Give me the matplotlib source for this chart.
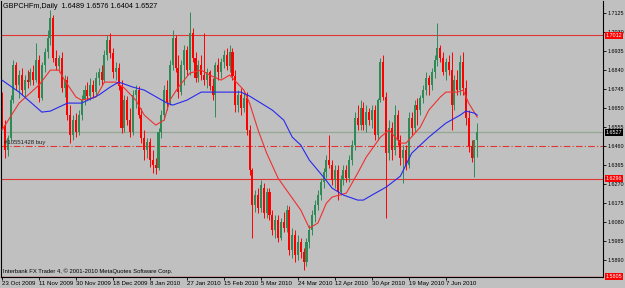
import matplotlib.pyplot as plt
import numpy as np
from matplotlib import transforms

plt.rcParams['font.family'] = ['Liberation Sans Narrow', 'Liberation Sans', 'DejaVu Sans']

# daily OHLC, GBPCHFm, 23 Oct 2009 ->
opens = [
    1.6703, 1.6563, 1.6438, 1.6498, 1.6688, 1.6863, 1.6763, 1.6813, 1.6738, 1.6788,
    1.6778, 1.6828, 1.6788, 1.6888, 1.6698, 1.6863, 1.6928, 1.6998, 1.7098, 1.6898,
    1.6858, 1.6898, 1.6748, 1.6788, 1.6613, 1.6513, 1.6588, 1.6528, 1.6613, 1.6688,
    1.6738, 1.6708, 1.6763, 1.6728, 1.6798, 1.6828, 1.6788, 1.6913, 1.6988, 1.6923,
    1.6828, 1.6848, 1.6758, 1.6548, 1.6688, 1.6588, 1.6528, 1.6713, 1.6738, 1.6613,
    1.6498, 1.6438, 1.6478, 1.6388, 1.6363, 1.6348, 1.6528, 1.6613, 1.6738, 1.6678,
    1.6863, 1.6998, 1.6848, 1.6728, 1.6863, 1.6938, 1.6838, 1.7023, 1.6898, 1.6798,
    1.6863, 1.6813, 1.6788, 1.6828, 1.6758, 1.6713, 1.6863, 1.6828, 1.6878, 1.6913,
    1.6858, 1.6928, 1.6808, 1.6663, 1.6713, 1.6648, 1.6698, 1.6538, 1.6338, 1.6163,
    1.6213, 1.6148, 1.6248, 1.6123, 1.6228, 1.6113, 1.6038, 1.6088, 1.5998, 1.6078,
    1.6048, 1.6138, 1.5938, 1.6013, 1.5913, 1.5978, 1.5928, 1.5878, 1.5978, 1.6038,
    1.6113, 1.6163, 1.6213, 1.6278, 1.6328, 1.6388, 1.6363, 1.6288, 1.6338, 1.6228,
    1.6288, 1.6338, 1.6298, 1.6388, 1.6463, 1.6598, 1.6563, 1.6648, 1.6563, 1.6628,
    1.6588, 1.6638, 1.6513, 1.6688, 1.6878, 1.6703, 1.6423, 1.6548, 1.6438, 1.6613,
    1.6488, 1.6398, 1.6438, 1.6363, 1.6598, 1.6548, 1.6663, 1.6638, 1.6698, 1.6738,
    1.6798, 1.6763, 1.6828, 1.6888, 1.6948, 1.6898, 1.6828, 1.6878, 1.6838, 1.6663,
    1.6788, 1.6738, 1.6878, 1.6748, 1.6598, 1.6458, 1.6398, 1.6489]
highs = [
    1.6728, 1.6588, 1.6513, 1.6713, 1.6888, 1.6878, 1.6838, 1.6848, 1.6813, 1.6838,
    1.6848, 1.6863, 1.6973, 1.6913, 1.6878, 1.6948, 1.7038, 1.7138, 1.7113, 1.6938,
    1.6913, 1.6928, 1.6813, 1.6808, 1.6663, 1.6613, 1.6623, 1.6638, 1.6713, 1.6763,
    1.6778, 1.6798, 1.6788, 1.6828, 1.6848, 1.6863, 1.6938, 1.7013, 1.7023, 1.6948,
    1.6878, 1.6873, 1.6788, 1.6713, 1.6708, 1.6648, 1.6738, 1.6763, 1.6758, 1.6648,
    1.6538, 1.6498, 1.6498, 1.6438, 1.6398, 1.6548, 1.6638, 1.6763, 1.6788, 1.6888,
    1.7038, 1.7013, 1.6913, 1.6888, 1.6963, 1.6958, 1.7128, 1.7048, 1.6928, 1.6888,
    1.6913, 1.7023, 1.6848, 1.6838, 1.6798, 1.6878, 1.6898, 1.6898, 1.6938, 1.6948,
    1.6963, 1.6948, 1.6838, 1.6738, 1.6748, 1.6728, 1.6728, 1.6563, 1.6348, 1.6238,
    1.6248, 1.6288, 1.6273, 1.6248, 1.6248, 1.6138, 1.6113, 1.6113, 1.6098, 1.6128,
    1.6163, 1.6158, 1.6048, 1.6038, 1.6013, 1.5998, 1.5948, 1.5998, 1.6063, 1.6138,
    1.6188, 1.6238, 1.6298, 1.6348, 1.6413, 1.6513, 1.6388, 1.6363, 1.6363, 1.6313,
    1.6363, 1.6363, 1.6413, 1.6488, 1.6628, 1.6663, 1.6688, 1.6678, 1.6663, 1.6648,
    1.6663, 1.6663, 1.6698, 1.6898, 1.6913, 1.6728, 1.6588, 1.6578, 1.6663, 1.6638,
    1.6513, 1.6463, 1.6463, 1.6628, 1.6628, 1.6688, 1.6698, 1.6713, 1.6763, 1.6828,
    1.6813, 1.6848, 1.6913, 1.7073, 1.6963, 1.6928, 1.6898, 1.6913, 1.6928, 1.6813,
    1.6838, 1.6913, 1.6928, 1.6788, 1.6638, 1.6488, 1.6428, 1.6576]
lows = [
    1.6548, 1.6398, 1.6408, 1.6488, 1.6673, 1.6738, 1.6698, 1.6713, 1.6703, 1.6748,
    1.6763, 1.6763, 1.6778, 1.6678, 1.6688, 1.6828, 1.6898, 1.6963, 1.6878, 1.6838,
    1.6828, 1.6728, 1.6703, 1.6588, 1.6473, 1.6488, 1.6503, 1.6513, 1.6588, 1.6663,
    1.6688, 1.6688, 1.6698, 1.6713, 1.6763, 1.6763, 1.6778, 1.6888, 1.6898, 1.6798,
    1.6788, 1.6738, 1.6523, 1.6528, 1.6563, 1.6503, 1.6513, 1.6648, 1.6598, 1.6473,
    1.6388, 1.6398, 1.6353, 1.6323, 1.6318, 1.6338, 1.6498, 1.6588, 1.6638, 1.6663,
    1.6838, 1.6828, 1.6698, 1.6713, 1.6763, 1.6813, 1.6813, 1.6878, 1.6778, 1.6778,
    1.6788, 1.6763, 1.6748, 1.6738, 1.6688, 1.6603, 1.6788, 1.6798, 1.6848, 1.6838,
    1.6828, 1.6788, 1.6628, 1.6628, 1.6613, 1.6628, 1.6513, 1.6313, 1.5998, 1.6128,
    1.6123, 1.6128, 1.6098, 1.6098, 1.6088, 1.6013, 1.5998, 1.5978, 1.5988, 1.6028,
    1.6028, 1.5913, 1.5898, 1.5878, 1.5888, 1.5898, 1.5838, 1.5858, 1.5948, 1.6013,
    1.6078, 1.6138, 1.6188, 1.6248, 1.6298, 1.6348, 1.6263, 1.6248, 1.6188, 1.6213,
    1.6263, 1.6278, 1.6278, 1.6363, 1.6438, 1.6538, 1.6538, 1.6538, 1.6528, 1.6563,
    1.6548, 1.6488, 1.6488, 1.6678, 1.6688, 1.6098, 1.6388, 1.6388, 1.6413, 1.6463,
    1.6363, 1.6273, 1.6338, 1.6348, 1.6513, 1.6528, 1.6563, 1.6613, 1.6673, 1.6713,
    1.6713, 1.6738, 1.6798, 1.6858, 1.6878, 1.6813, 1.6788, 1.6813, 1.6538, 1.6638,
    1.6713, 1.6713, 1.6713, 1.6563, 1.6428, 1.6378, 1.6303, 1.6404]
closes = [
    1.6563, 1.6438, 1.6498, 1.6688, 1.6863, 1.6763, 1.6813, 1.6738, 1.6788, 1.6778,
    1.6828, 1.6788, 1.6888, 1.6698, 1.6863, 1.6928, 1.6998, 1.7098, 1.6898, 1.6858,
    1.6898, 1.6748, 1.6788, 1.6613, 1.6513, 1.6588, 1.6528, 1.6613, 1.6688, 1.6738,
    1.6708, 1.6763, 1.6728, 1.6798, 1.6828, 1.6788, 1.6913, 1.6988, 1.6923, 1.6828,
    1.6848, 1.6758, 1.6548, 1.6688, 1.6588, 1.6528, 1.6713, 1.6738, 1.6613, 1.6498,
    1.6438, 1.6478, 1.6388, 1.6363, 1.6348, 1.6528, 1.6613, 1.6738, 1.6678, 1.6863,
    1.6998, 1.6848, 1.6728, 1.6863, 1.6938, 1.6838, 1.7023, 1.6898, 1.6798, 1.6863,
    1.6813, 1.6788, 1.6828, 1.6758, 1.6713, 1.6863, 1.6828, 1.6878, 1.6913, 1.6858,
    1.6928, 1.6808, 1.6663, 1.6713, 1.6648, 1.6698, 1.6538, 1.6338, 1.6163, 1.6213,
    1.6148, 1.6263, 1.6123, 1.6228, 1.6113, 1.6038, 1.6088, 1.5998, 1.6078, 1.6048,
    1.6138, 1.5938, 1.6013, 1.5913, 1.5978, 1.5928, 1.5878, 1.5978, 1.6038, 1.6113,
    1.6163, 1.6213, 1.6278, 1.6328, 1.6388, 1.6363, 1.6288, 1.6338, 1.6228, 1.6288,
    1.6338, 1.6298, 1.6388, 1.6463, 1.6598, 1.6563, 1.6648, 1.6563, 1.6628, 1.6588,
    1.6638, 1.6513, 1.6688, 1.6878, 1.6703, 1.6423, 1.6548, 1.6438, 1.6613, 1.6488,
    1.6398, 1.6438, 1.6363, 1.6598, 1.6548, 1.6663, 1.6638, 1.6698, 1.6738, 1.6798,
    1.6763, 1.6828, 1.6888, 1.6948, 1.6898, 1.6828, 1.6878, 1.6838, 1.6663, 1.6788,
    1.6738, 1.6878, 1.6748, 1.6598, 1.6458, 1.6398, 1.6488, 1.6527]

# moving averages at these bars
red_ma_bar = [0, 6, 13, 17, 20, 22, 26, 28, 33, 36, 40, 43, 47, 50, 54, 57, 59, 62, 66, 70,
              73, 77, 80, 85, 87, 90, 93, 97, 100, 105, 108, 111, 114, 116, 121, 125, 128, 133,
              136, 140, 142, 147, 150, 154, 156, 160, 162, 164, 167]
red_ma_val = [1.6538, 1.6673, 1.6763, 1.6838, 1.6838, 1.6788, 1.6703, 1.6688, 1.6703, 1.6778,
              1.6778, 1.6748, 1.6688, 1.6613, 1.6563, 1.6588, 1.6688, 1.6753, 1.6823, 1.6838,
              1.6813, 1.6788, 1.6813, 1.6738, 1.6673, 1.6538, 1.6423, 1.6298, 1.6238, 1.6138,
              1.6048, 1.6073, 1.6173, 1.6203, 1.6223, 1.6323, 1.6403, 1.6503, 1.6538, 1.6473,
              1.6473, 1.6553, 1.6638, 1.6703, 1.6728, 1.6728, 1.6738, 1.6673, 1.6603]
blue_ma_bar = [0, 6, 14, 17, 23, 28, 34, 38, 41, 46, 50, 58, 60, 65, 70, 75, 84, 87, 91, 95,
               99, 102, 105, 108, 113, 116, 120, 125, 127, 130, 135, 140, 144, 150, 156, 161,
               163, 166, 167]
blue_ma_val = [1.6788, 1.6728, 1.6628, 1.6633, 1.6673, 1.6673, 1.6713, 1.6753, 1.6778, 1.6753,
               1.6738, 1.6673, 1.6663, 1.6688, 1.6728, 1.6728, 1.6728, 1.6708, 1.6673, 1.6638,
               1.6588, 1.6503, 1.6463, 1.6388, 1.6303, 1.6248, 1.6213, 1.6188, 1.6188, 1.6213,
               1.6253, 1.6308, 1.6423, 1.6503, 1.6573, 1.6613, 1.6633, 1.6623, 1.6613]

date_bars = [0, 13, 26, 39, 52, 65, 78, 91, 104, 117, 130, 143, 156]
date_labels = ['23 Oct 2009', '11 Nov 2009', '30 Nov 2009', '18 Dec 2009', '8 Jan 2010',
               '27 Jan 2010', '15 Feb 2010', '5 Mar 2010', '24 Mar 2010', '12 Apr 2010',
               '30 Apr 2010', '19 May 2010', '7 Jun 2010']
price_ticks = [1.7125, 1.7030, 1.6935, 1.6840, 1.6745, 1.6650, 1.6555, 1.6460,
               1.6365, 1.6270, 1.6175, 1.6080, 1.5985, 1.5890]

resist_level = 1.7012
support_level = 1.6296
bottom_level = 1.5805
order_price = 1.6459
order_text = '#10551428 buy'

bg = '#C0C0C0'
bull = '#2E8B57'
bear = '#FF0000'

fig = plt.figure(figsize=(6.25, 2.88), dpi=100, facecolor=bg)
ax = fig.add_axes([1 / 625, 11 / 288, 602 / 625, 276 / 288])
ax.set_facecolor(bg)
ax.set_xlim(-0.35, 211.2)
ax.set_ylim(1.58035, 1.71835)

o = np.array(opens)
c = np.array(closes)
x = np.arange(len(o))
up = c >= o
cols = np.where(up, bull, bear)

# levels
ax.axhline(resist_level, color='#E03535', lw=0.8, zorder=1)
ax.axhline(support_level, color='#E03535', lw=0.8, zorder=1)
ax.axhline(bottom_level, color='#E03535', lw=1.0, zorder=1)
ax.axhline(closes[-1], color='#94A894', lw=0.9, zorder=1)
ax.axhline(order_price, color='#E03535', lw=0.8, ls=(0, (6, 2, 1, 2)), zorder=1)
ax.text(0.8, order_price + 0.0004, order_text, fontsize=4.3, va='bottom', ha='left',
        color='#202020', zorder=4)

# candles
ax.vlines(x, lows, highs, colors=cols, lw=0.7, zorder=2)
ax.bar(x, np.abs(c - o) + 0.00008, bottom=np.minimum(o, c), width=0.72,
       color=cols, lw=0, zorder=2)

# moving averages
ax.plot(red_ma_bar, red_ma_val, color='#F03030', lw=0.8, zorder=3)
ax.plot(blue_ma_bar, blue_ma_val, color='#2828F0', lw=0.8, zorder=3)

# axes / ticks
for s in ['left', 'right', 'bottom']:
    ax.spines[s].set_color('black')
    ax.spines[s].set_linewidth(0.8)
ax.spines['top'].set_visible(False)
ax.yaxis.tick_right()
ax.set_yticks(price_ticks)
ax.set_yticklabels([f'{p:.4f}' for p in price_ticks])
ax.tick_params(axis='y', labelsize=3.9, length=2, width=0.6, pad=1.2, colors='black')
ax.set_xticks(date_bars)
ax.set_xticklabels(date_labels)
ax.tick_params(axis='x', labelsize=4.4, length=2, width=0.6, pad=0.8, colors='black')
for lbl in ax.get_xticklabels():
    lbl.set_ha('left')

# price tags on the right
tr = transforms.blended_transform_factory(ax.transAxes, ax.transData)
tags = [(resist_level, '#FF0000'), (support_level, '#FF0000'),
        (bottom_level, '#FF0000'), (closes[-1], '#000000')]
for val, fc in tags:
    ax.text(1.0045, val, f'{val:.4f}', transform=tr, fontsize=3.9, color='white',
            va='center', ha='left', clip_on=False, zorder=5,
            bbox=dict(boxstyle='square,pad=0.15', fc=fc, ec='none'))

fig.text(3 / 625, 1 - 6 / 288, 'GBPCHFm,Daily  1.6489 1.6576 1.6404 1.6527',
         fontsize=5.2, va='center', ha='left', color='black')
fig.text(3 / 625, (288 - 271) / 288,
         'Interbank FX Trader 4, \u00a9 2001-2010 MetaQuotes Software Corp.',
         fontsize=4.25, va='center', ha='left', color='black')

fig.savefig('out.png', dpi=100, facecolor=bg)
